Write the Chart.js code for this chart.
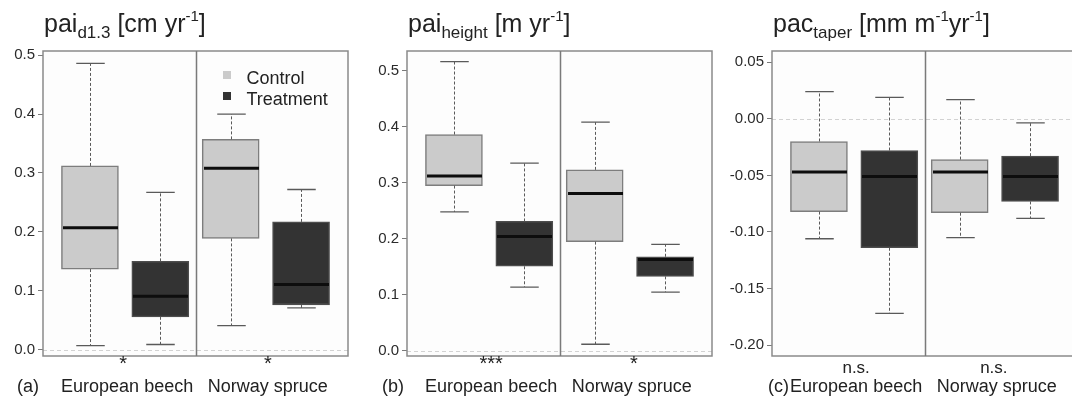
<!DOCTYPE html>
<html>
<head>
<meta charset="utf-8">
<script src="https://cdn.jsdelivr.net/npm/chart.js@4.4.1/dist/chart.umd.min.js"></script>
<style>
  html, body { margin: 0; padding: 0; background: #ffffff; }
  body { position: relative; width: 1072px; height: 401px; overflow: hidden;
         font-family: "Liberation Sans", Arial, Helvetica, sans-serif; color: #262626; }
  canvas { position: absolute; top: 0; }
  .txt { position: absolute; white-space: nowrap; line-height: 1; }
  .title { color: #222; }
  .title .sub { font-size: 17px; position: relative; top: 6px; }
  .title .sup { font-size: 15px; position: relative; top: -11px; }
  .swatch { position: absolute; width: 8px; height: 8px; }
</style>
</head>
<body>
<script>
// ---- data -------------------------------------------------------------
const categories = ['European beech', 'Norway spruce'];
const seriesNames = ['Control', 'Treatment'];
// x positions of the boxes: Control and Treatment alternate inside each species
const controlPositions = [1, 3];
const treatmentPositions = [2, 4];

// five-number summaries per species: [min, q1, median, q3, max]
const diamControl     = [[0.007, 0.137, 0.207, 0.312, 0.486], [0.041, 0.189, 0.308, 0.357, 0.400]];
const diamTreatment   = [[0.009, 0.056, 0.091, 0.150, 0.267], [0.071, 0.076, 0.111, 0.217, 0.272]];
const heightControl   = [[0.248, 0.295, 0.312, 0.386, 0.516], [0.012, 0.195, 0.281, 0.323, 0.408]];
const heightTreatment = [[0.114, 0.151, 0.204, 0.231, 0.335], [0.105, 0.133, 0.163, 0.168, 0.190]];
const taperControl    = [[-0.106, -0.082, -0.047, -0.020, 0.024], [-0.105, -0.083, -0.047, -0.036, 0.017]];
const taperTreatment  = [[-0.172, -0.114, -0.051, -0.028, 0.019], [-0.088, -0.073, -0.051, -0.033, -0.0035]];

// significance of the Control/Treatment difference per species
const diamSig   = ['*', '*'];
const heightSig = ['***', '*'];
const taperSig  = ['n.s.', 'n.s.'];

// y-axis tick labels and ranges
const diamTicks   = ['0.0', '0.1', '0.2', '0.3', '0.4', '0.5'];
const heightTicks = ['0.0', '0.1', '0.2', '0.3', '0.4', '0.5'];
const taperTicks  = ['-0.20', '-0.15', '-0.10', '-0.05', '0.00', '0.05'];
const diamRange   = [-0.0105, 0.507];
const heightRange = [-0.009, 0.535];
const taperRange  = [-0.2097, 0.060];

// ---- styling ----------------------------------------------------------
const FONT = '"Liberation Sans", Arial, Helvetica, sans-serif';
const seriesFill   = ['#cbcbcb', '#333333'];
const seriesBorder = ['#7d7d7d', '#4d4d4d'];
const AXIS_W = 60, PLOT_W = 305, PAD_TOP = 51, PAD_BOTTOM = 45, PAD_RIGHT = 12, H = 401;

const panels = [
  { letter: '(a)', plotLeft: 43, letterDx: -26,
    title: 'pai<span class="sub">d1.3</span> [cm yr<span class="sup">-1</span>]',
    control: diamControl, treatment: diamTreatment, ticks: diamTicks, range: diamRange,
    sig: diamSig, sigSize: 20, sigBase: 370, sigDx: [-4, 0], legend: true },
  { letter: '(b)', plotLeft: 407, letterDx: -25,
    title: 'pai<span class="sub">height</span> [m yr<span class="sup">-1</span>]',
    control: heightControl, treatment: heightTreatment, ticks: heightTicks, range: heightRange,
    sig: heightSig, sigSize: 20, sigBase: 370, sigDx: [0, 2], legend: false },
  { letter: '(c)', plotLeft: 772, letterDx: -4,
    title: 'pac<span class="sub">taper</span> [mm m<span class="sup">-1</span>yr<span class="sup">-1</span>]',
    control: taperControl, treatment: taperTreatment, ticks: taperTicks, range: taperRange,
    sig: taperSig, sigSize: 17, sigBase: 373, sigDx: [0, -3], legend: false }
];

// whiskers, caps, medians, zero line, frame and species divider
const boxPlotDecor = {
  id: 'boxPlotDecor',
  beforeDatasetsDraw(chart) {
    const { ctx, chartArea: a, scales: { y } } = chart;
    ctx.save();
    ctx.fillStyle = '#fdfdfd';
    ctx.fillRect(a.left, a.top, a.right - a.left, a.bottom - a.top);
    const y0 = Math.round(y.getPixelForValue(0)) + 0.5;
    ctx.setLineDash([4, 3]);
    ctx.strokeStyle = '#d2d2d2';
    ctx.lineWidth = 1;
    ctx.beginPath(); ctx.moveTo(a.left, y0); ctx.lineTo(a.right, y0); ctx.stroke();
    ctx.restore();
  },
  afterDatasetsDraw(chart) {
    const { ctx, scales: { x, y } } = chart;
    ctx.save();
    chart.data.datasets.forEach((ds, di) => {
      const meta = chart.getDatasetMeta(di);
      ds.stats.forEach((s, i) => {
        const bar = meta.data[i];
        const cx = Math.round(x.getPixelForValue(ds.data[i].x)) + 0.5;
        const half = bar.width / 2;
        const [mn, q1, md, q3, mx] = s.map(v => y.getPixelForValue(v));
        // dashed whiskers
        ctx.strokeStyle = '#5a5a5a';
        ctx.lineWidth = 1;
        ctx.setLineDash([3, 2]);
        ctx.beginPath();
        ctx.moveTo(cx, q3); ctx.lineTo(cx, mx);
        ctx.moveTo(cx, q1); ctx.lineTo(cx, mn);
        ctx.stroke();
        // caps, half the box width
        ctx.setLineDash([]);
        ctx.lineWidth = 1.3;
        ctx.beginPath();
        ctx.moveTo(cx - half / 2, mx); ctx.lineTo(cx + half / 2, mx);
        ctx.moveTo(cx - half / 2, mn); ctx.lineTo(cx + half / 2, mn);
        ctx.stroke();
        // median
        ctx.strokeStyle = '#0d0d0d';
        ctx.lineWidth = 3;
        ctx.beginPath();
        ctx.moveTo(cx - half + 1, md); ctx.lineTo(cx + half - 1, md);
        ctx.stroke();
      });
    });
    ctx.restore();
  },
  afterDraw(chart) {
    const { ctx, chartArea: a, scales: { x } } = chart;
    ctx.save();
    ctx.strokeStyle = '#8a8a8a';
    ctx.lineWidth = 1.5;
    ctx.strokeRect(a.left, a.top, a.right - a.left, a.bottom - a.top);
    const xd = Math.round(x.getPixelForValue(2.5)) + 0.5;
    ctx.strokeStyle = '#7a7a7a';
    ctx.beginPath(); ctx.moveTo(xd, a.top); ctx.lineTo(xd, a.bottom); ctx.stroke();
    ctx.restore();
  }
};

function addText(html, cls, left, baseline, size, align, color) {
  const el = document.createElement('div');
  el.className = 'txt ' + (cls || '');
  el.innerHTML = html;
  el.style.fontSize = size + 'px';
  el.style.top = (baseline - 0.8465 * size) + 'px';
  el.style.left = left + 'px';
  if (color) el.style.color = color;
  if (align === 'center') el.style.transform = 'translateX(-50%)';
  document.body.appendChild(el);
  return el;
}

panels.forEach(p => {
  const canvas = document.createElement('canvas');
  const canvasLeft = p.plotLeft - AXIS_W;
  const W = AXIS_W + PLOT_W + PAD_RIGHT;
  canvas.width = W; canvas.height = H;
  canvas.style.left = canvasLeft + 'px';
  canvas.style.width = W + 'px'; canvas.style.height = H + 'px';
  document.body.appendChild(canvas);

  const makeSet = (stats, positions, k) => ({
    label: seriesNames[k],
    data: stats.map((s, i) => ({ x: positions[i], y: [s[1], s[3]] })),
    stats: stats,
    backgroundColor: seriesFill[k],
    borderColor: seriesBorder[k],
    borderWidth: 1.5,
    borderSkipped: false,
    grouped: false,
    barThickness: 57
  });

  const chart = new Chart(canvas, {
    type: 'bar',
    data: { datasets: [makeSet(p.control, controlPositions, 0), makeSet(p.treatment, treatmentPositions, 1)] },
    options: {
      responsive: false,
      animation: false,
      devicePixelRatio: 1,
      events: [],
      layout: { padding: { top: PAD_TOP, bottom: PAD_BOTTOM, left: 0, right: PAD_RIGHT } },
      plugins: { legend: { display: false }, tooltip: { enabled: false }, title: { display: false } },
      scales: {
        x: { type: 'linear', min: 0.333, max: 4.667, offset: false, display: false },
        y: {
          min: p.range[0], max: p.range[1],
          afterBuildTicks: s => { s.ticks = p.ticks.map(t => ({ value: parseFloat(t) })); },
          afterFit: s => { s.width = AXIS_W; },
          ticks: {
            callback: v => p.ticks.find(t => Math.abs(parseFloat(t) - v) < 1e-9),
            font: { family: FONT, size: 15 }, color: '#2b2b2b', padding: 3, autoSkip: false
          },
          grid: { drawOnChartArea: false, drawTicks: true, tickLength: 5, color: '#7a7a7a', lineWidth: 1 },
          border: { display: false }
        }
      }
    },
    plugins: [boxPlotDecor]
  });

  const xs = chart.scales.x;
  // panel title above the frame
  addText(p.title, 'title', p.plotLeft + 1, 32, 25, 'left', '#222');
  // species labels, significance marks, panel letter
  categories.forEach((c, i) => {
    const cx = canvasLeft + xs.getPixelForValue(i * 2 + 1.5) + 2;
    addText(c, '', cx, 392, 18, 'center', '#222');
    addText(p.sig[i], '', cx + p.sigDx[i], p.sigBase, p.sigSize, 'center', '#222');
  });
  addText(p.letter, '', p.plotLeft + p.letterDx, 392, 18, 'left', '#222');

  if (p.legend) {
    const lx = canvasLeft + xs.getPixelForValue(2.5) + 27;
    seriesNames.forEach((n, k) => {
      const base = 84 + k * 21;
      const sw = document.createElement('div');
      sw.className = 'swatch';
      sw.style.background = seriesFill[k];
      sw.style.left = lx + 'px';
      sw.style.top = (base - 13) + 'px';
      document.body.appendChild(sw);
      addText(n, '', lx + 24, base, 18, 'left', '#222');
    });
  }
});
</script>
</body>
</html>
